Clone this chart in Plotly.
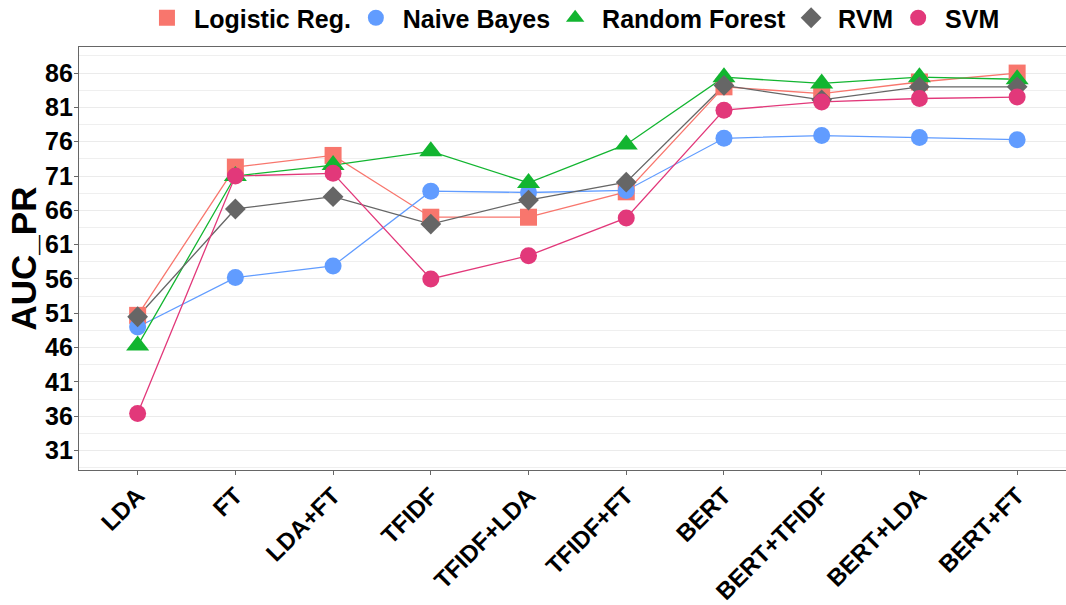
import plotly.graph_objects as go

# Feature sets evaluated on the x axis
feature_sets = ["LDA", "FT", "LDA+FT", "TFIDF", "TFIDF+LDA", "TFIDF+FT",
                "BERT", "BERT+TFIDF", "BERT+LDA", "BERT+FT"]

# AUC_PR (%) per classifier
logistic_reg = [50.7, 72.3, 74.0, 65.0, 65.0, 68.7, 84.0, 83.0, 84.7, 86.0]
naive_bayes = [49.0, 56.2, 57.9, 68.8, 68.6, 68.9, 76.5, 76.9, 76.6, 76.3]
random_forest = [46.3, 71.0, 72.6, 74.6, 70.0, 75.6, 85.4, 84.5, 85.4, 85.1]
rvm = [50.5, 66.2, 68.0, 64.0, 67.5, 70.1, 84.2, 82.1, 84.0, 84.0]
svm = [36.4, 71.0, 71.4, 56.0, 59.4, 64.9, 80.6, 81.8, 82.3, 82.5]

y_ticks = [31, 36, 41, 46, 51, 56, 61, 66, 71, 76, 81, 86]

series = [
    ("Logistic Reg.", logistic_reg, "#F8766D", "square", 17),
    ("Naive Bayes", naive_bayes, "#619CFF", "circle", 17),
    ("Random Forest", random_forest, "#12B530", "triangle-up", 20),
    ("RVM", rvm, "#666666", "diamond", 16),
    ("SVM", svm, "#E2387A", "circle", 17),
]

xs = list(range(len(feature_sets)))
fig = go.Figure()

# connecting lines first, so every marker sits above every line
for name, vals, color, sym, size in series:
    fig.add_trace(go.Scatter(x=xs, y=vals, mode="lines", showlegend=False,
                             hoverinfo="skip",
                             line=dict(color=color, width=1.3)))

for name, vals, color, sym, size in series:
    fig.add_trace(go.Scatter(x=xs, y=vals, mode="markers", name=" " + name,
                             marker=dict(color=color, symbol=sym, size=size,
                                         line=dict(width=0))))

font_family = "Liberation Sans, Arial, sans-serif"

fig.update_layout(
    width=1066, height=605,
    margin=dict(l=79, r=0, t=47, b=135, autoexpand=False),
    paper_bgcolor="white", plot_bgcolor="white",
    font=dict(family=font_family, size=24, color="black", weight="bold"),
    legend=dict(orientation="h", x=0.5035, xanchor="center",
                y=1 - 18 / 605, yref="container", yanchor="middle",
                font=dict(size=25, weight="bold"), itemsizing="trace",
                tracegroupgap=0, bgcolor="rgba(0,0,0,0)"),
    xaxis=dict(
        range=[-0.6, 9.5], tickmode="array", tickvals=xs, ticktext=feature_sets,
        tickangle=-45, showgrid=False, zeroline=False, automargin=False,
        showline=True, linecolor="#666666", linewidth=1.2, mirror=True,
        ticks="outside", ticklen=4, tickcolor="#666666",
        ticklabelstandoff=-3,
        tickfont=dict(size=24, weight="bold", color="black"),
    ),
    yaxis=dict(
        range=[28.17, 89.8], tickmode="array", tickvals=y_ticks,
        showgrid=True, gridcolor="#EBEBEB", gridwidth=1.3, zeroline=False,
        automargin=False,
        minor=dict(showgrid=True, tick0=28.5, dtick=5, gridcolor="#EFEFEF",
                   gridwidth=1.1, ticks=""),
        showline=True, linecolor="#666666", linewidth=1.2,
        ticks="outside", ticklen=4, tickcolor="#666666",
        ticklabelstandoff=-4,
        tickfont=dict(size=25, weight="bold", color="black"),
    ),
    annotations=[dict(text="AUC_PR", xref="paper", yref="paper",
                      x=(23 - 79) / 987, y=0.5, xanchor="center",
                      yanchor="middle", textangle=-90, showarrow=False,
                      font=dict(size=35, weight="bold", color="black"))],
)

fig.write_html("out.html")
